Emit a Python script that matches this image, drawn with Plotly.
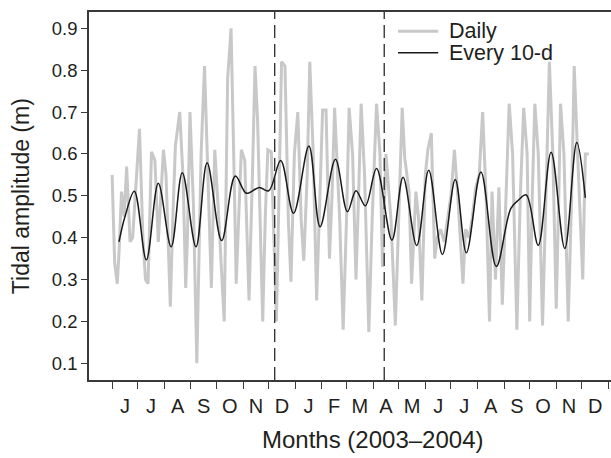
import pandas as pd
import plotly.graph_objects as go

# ---------------- data ----------------
record_start = "2003-06-01"   # day 0 of the record

# Daily tidal amplitude (m): day of record, value at the turning points
daily_day = [0, 3, 6, 8, 11, 14, 17, 21, 24, 28, 32, 36, 39, 42, 46, 50, 54, 57, 60, 63,
             68, 71, 74, 79, 83, 86, 88, 91, 95, 99, 102, 104, 108, 112, 116, 118, 120, 124,
             131, 135, 139, 143, 145, 148, 151, 155, 160, 164, 167, 170, 176, 179, 182, 186,
             190, 192, 195, 198, 202, 206, 209, 213, 217, 221, 224, 228, 231, 235, 239, 242,
             246, 250, 254, 257, 260, 266, 270, 274, 277, 281, 285, 288, 291, 295, 300, 304,
             309, 313, 316, 320, 324, 326, 331, 335, 339, 342, 347, 350, 355, 358, 362, 366,
             369, 373, 377, 380, 384, 388, 392, 396, 400, 404, 410, 413, 417, 421, 425, 429,
             433, 437, 441, 444, 448, 452, 456, 460, 464, 468, 473, 477, 481, 485, 488, 491,
             494, 498, 503, 507, 511, 515, 519, 522, 524, 528, 533, 537, 540, 544, 550, 553, 557]
daily_amp = [0.55, 0.34, 0.29, 0.36, 0.51, 0.45, 0.57, 0.39, 0.40, 0.52, 0.66, 0.40, 0.30, 0.29,
             0.605, 0.585, 0.39, 0.50, 0.61, 0.55, 0.235, 0.45, 0.62, 0.70, 0.54, 0.28, 0.40, 0.70,
             0.48, 0.10, 0.45, 0.60, 0.81, 0.52, 0.28, 0.45, 0.61, 0.47, 0.20, 0.78, 0.90, 0.51,
             0.29, 0.45, 0.61, 0.585, 0.25, 0.55, 0.81, 0.68, 0.20, 0.45, 0.61, 0.605, 0.36, 0.20,
             0.50, 0.82, 0.81, 0.44, 0.295, 0.60, 0.70, 0.44, 0.345, 0.55, 0.82, 0.60, 0.25, 0.45,
             0.705, 0.705, 0.35, 0.50, 0.71, 0.44, 0.18, 0.45, 0.71, 0.60, 0.30, 0.50, 0.72, 0.55,
             0.175, 0.45, 0.72, 0.60, 0.33, 0.60, 0.50, 0.44, 0.19, 0.45, 0.71, 0.59, 0.51, 0.29,
             0.51, 0.45, 0.25, 0.55, 0.61, 0.65, 0.35, 0.40, 0.42, 0.39, 0.45, 0.50, 0.61, 0.50,
             0.29, 0.42, 0.40, 0.45, 0.52, 0.55, 0.70, 0.50, 0.20, 0.51, 0.30, 0.52, 0.24, 0.50,
             0.72, 0.60, 0.18, 0.50, 0.71, 0.60, 0.20, 0.50, 0.72, 0.60, 0.19, 0.50, 0.82, 0.60,
             0.23, 0.50, 0.72, 0.60, 0.20, 0.50, 0.81, 0.60, 0.30, 0.60, 0.60]

# Every-10-day amplitude (m)
tenday_day = [8, 15, 26, 40, 54, 69, 82, 98, 111, 128, 144, 157, 172, 183, 197, 212, 230,
              243, 261, 275, 285, 296, 309, 327, 340, 356, 370, 386, 401, 414, 431, 449,
              466, 475, 484, 498, 513, 529, 543, 553]
tenday_amp = [0.390, 0.45, 0.511, 0.347, 0.530, 0.378, 0.555, 0.378, 0.579, 0.393, 0.547,
              0.506, 0.520, 0.512, 0.584, 0.458, 0.619, 0.426, 0.587, 0.462, 0.512, 0.476,
              0.565, 0.394, 0.544, 0.381, 0.561, 0.360, 0.539, 0.364, 0.557, 0.331,
              0.470, 0.490, 0.502, 0.382, 0.604, 0.374, 0.627, 0.495]

period_breaks = ["2003-12-08", "2004-04-14"]
month_letters = ["J", "J", "A", "S", "O", "N", "D", "J", "F", "M",
                 "A", "M", "J", "J", "A", "S", "O", "N", "D"]
y_ticks = [0.1, 0.2, 0.3, 0.4, 0.5, 0.6, 0.7, 0.8, 0.9]
legend_names = ["Daily", "Every 10-d"]
colors = ["#c8c8c8", "#1a1a1a"]

# ---------------- build ----------------
t0 = pd.Timestamp(record_start)
daily_dates = t0 + pd.to_timedelta(daily_day, unit="D")
tenday_dates = t0 + pd.to_timedelta(tenday_day, unit="D")
month_starts = pd.date_range("2003-06-01", "2005-01-01", freq="MS")
month_mids = [a + (b - a) / 2 for a, b in zip(month_starts[:-1], month_starts[1:])]

FONT = "Liberation Sans, Arial, Helvetica, sans-serif"
TXT = "#231f20"
AX = "#3a3a3a"

fig = go.Figure()
fig.add_trace(go.Scatter(x=daily_dates, y=daily_amp, mode="lines", name=legend_names[0],
                         line=dict(color=colors[0], width=3), showlegend=False))
fig.add_trace(go.Scatter(x=tenday_dates, y=tenday_amp, mode="lines", name=legend_names[1],
                         line=dict(color=colors[1], width=1.5, shape="spline", smoothing=1),
                         showlegend=False))

for d in period_breaks:
    fig.add_shape(type="line", xref="x", yref="paper", x0=d, x1=d, y0=0, y1=1,
                  line=dict(color="#2a2a2a", width=1.3, dash="13px,6px"))

# legend (drawn by hand to match the compact layout)
leg_y = [0.948, 0.889]
for name, col, yy in zip(legend_names, colors, leg_y):
    fig.add_shape(type="line", xref="paper", yref="paper", x0=0.592, x1=0.669, y0=yy, y1=yy,
                  line=dict(color=col, width=3 if col == colors[0] else 1.5))
    fig.add_annotation(text=name, xref="paper", yref="paper", x=0.686, y=yy, xanchor="left",
                       yanchor="middle", showarrow=False, font=dict(family=FONT, size=21.5, color=TXT))

fig.add_annotation(text="Months (2003\u20132004)", xref="paper", yref="paper", x=0.544, y=-0.163,
                   xanchor="center", yanchor="middle", showarrow=False,
                   font=dict(family=FONT, size=24, color=TXT))
fig.add_annotation(text="Tidal amplitude (m)", xref="paper", yref="paper", x=-0.13, y=0.5,
                   xanchor="center", yanchor="middle", textangle=-90, showarrow=False,
                   font=dict(family=FONT, size=23, color=TXT))

fig.update_layout(
    width=611, height=458,
    margin=dict(l=89, r=0, t=12, b=78),
    paper_bgcolor="white", plot_bgcolor="white",
    font=dict(family=FONT, color=TXT),
    xaxis=dict(
        type="date", range=["2003-05-05", "2005-01-04"],
        tickmode="array", tickvals=month_mids, ticktext=month_letters,
        ticks="outside", ticklen=7, tickcolor="rgba(0,0,0,0)",
        minor=dict(tickmode="array", tickvals=list(month_starts), ticks="outside",
                   ticklen=7, tickwidth=1.3, tickcolor=AX, showgrid=False),
        showline=True, linecolor=AX, linewidth=1.5, mirror=True,
        showgrid=False, zeroline=False,
        tickfont=dict(family=FONT, size=20, color=TXT),
    ),
    yaxis=dict(
        range=[0.06, 0.939], tickmode="array", tickvals=y_ticks,
        ticktext=[f"{v:.1f}" for v in y_ticks],
        ticks="outside", ticklen=6, tickwidth=1.3, tickcolor=AX,
        showline=True, linecolor=AX, linewidth=1.5, mirror=False,
        showgrid=False, zeroline=False,
        tickfont=dict(family=FONT, size=18.5, color=TXT),
    ),
)

fig.write_html("out.html")
